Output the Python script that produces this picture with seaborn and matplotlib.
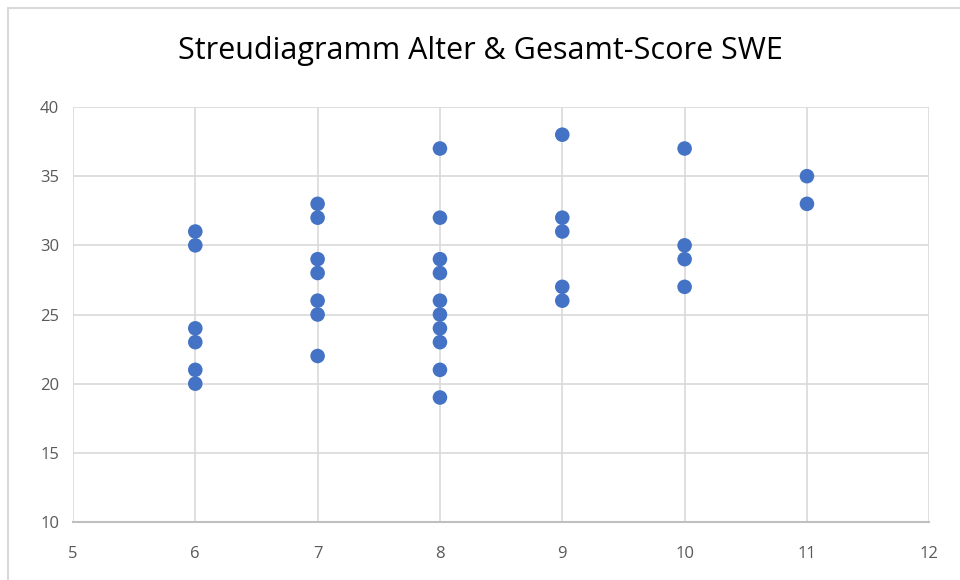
import matplotlib
matplotlib.use("Agg")
import matplotlib.pyplot as plt
import seaborn as sns
import pandas as pd
from matplotlib.patches import Rectangle

# Alter (Jahre) und Gesamt-Score SWE
alter = [6, 6, 6, 6, 6, 6,
         7, 7, 7, 7, 7, 7, 7,
         8, 8, 8, 8, 8, 8, 8, 8, 8, 8,
         9, 9, 9, 9, 9,
         10, 10, 10, 10,
         11, 11]
score = [31, 30, 24, 23, 21, 20,
         33, 32, 29, 28, 26, 25, 22,
         37, 32, 29, 28, 26, 25, 24, 23, 21, 19,
         38, 32, 31, 27, 26,
         37, 30, 29, 27,
         35, 33]

df = pd.DataFrame({"Alter": alter, "Score": score})

sns.set_style("white")
plt.rcParams["font.family"] = ["Open Sans", "DejaVu Sans"]

fig = plt.figure(figsize=(9.6, 5.8), dpi=100)
ax = fig.add_axes([0.076, 0.1, 0.892, 0.7155])

sns.scatterplot(data=df, x="Alter", y="Score", ax=ax, color="#4472C4",
                s=110, edgecolor="none", zorder=3)

ax.set_xlim(5, 12)
ax.set_ylim(10, 40)
ax.set_xticks(range(5, 13))
ax.set_yticks(range(10, 41, 5))
ax.grid(True, color="#d9d9d9", linewidth=1.2)
ax.set_axisbelow(True)
for side in ["left", "right", "top"]:
    ax.spines[side].set_visible(False)
ax.spines["bottom"].set_color("#bfbfbf")
ax.spines["bottom"].set_linewidth(1.5)
ax.tick_params(axis="both", length=0, labelsize=12, colors="#595959")
ax.tick_params(axis="x", pad=17)
ax.tick_params(axis="y", pad=10)
ax.set_xlabel("")
ax.set_ylabel("")

fig.text(0.5, 0.912, "Streudiagramm Alter & Gesamt-Score SWE",
         ha="center", va="center", fontsize=22, color="black")

# Rahmen um das Diagramm
fig.patches.append(Rectangle((8 / 960, -0.01), 1.0, 1 - 8 / 580 + 0.01,
                             transform=fig.transFigure, fill=False,
                             edgecolor="#d9d9d9", linewidth=1.5))

fig.savefig("out.png", dpi=100)
